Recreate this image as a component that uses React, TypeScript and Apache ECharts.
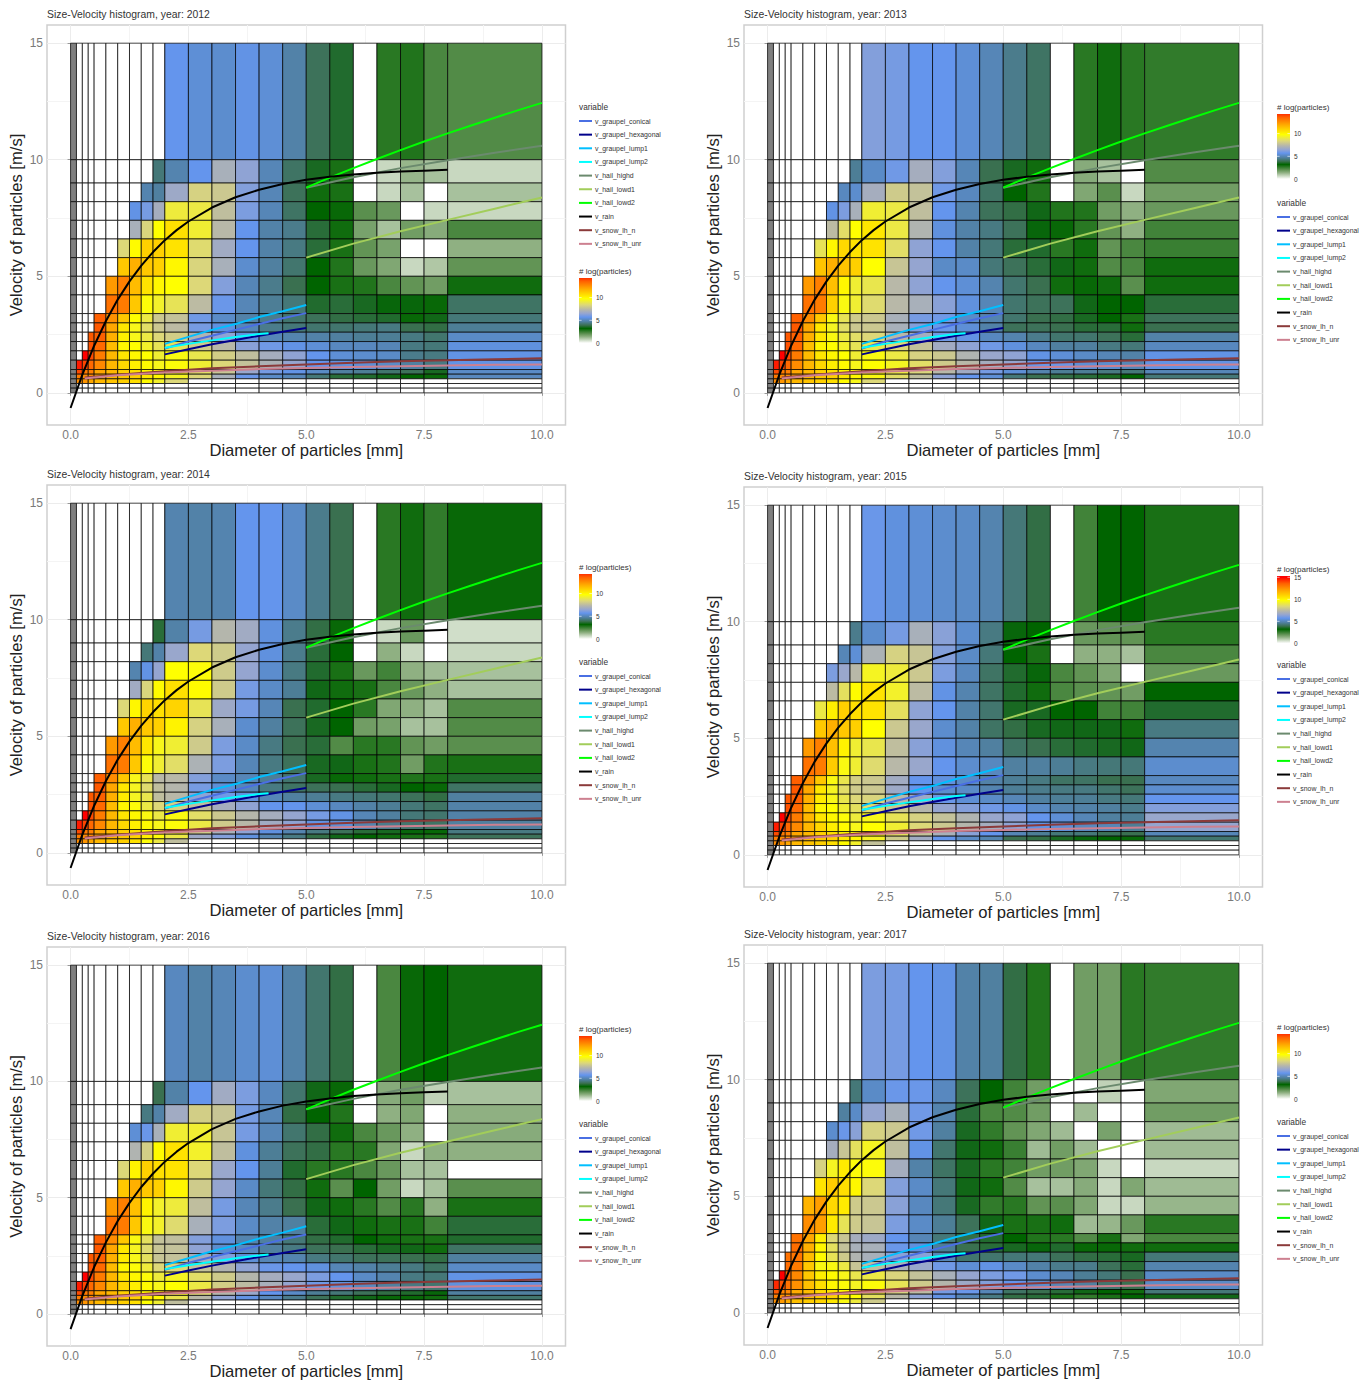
import React, { useEffect, useRef } from "react";
import * as echarts from "echarts";

const years = [2012, 2013, 2014, 2015, 2016, 2017];
const xEdges = [0, 0.125, 0.25, 0.375, 0.5, 0.75, 1, 1.25, 1.5, 1.75, 2, 2.5, 3, 3.5, 4, 4.5, 5, 5.5, 6, 6.5, 7, 7.5, 8, 10];
const yEdgesTopDown = [15, 10, 9, 8.2, 7.4, 6.6, 5.8, 5, 4.2, 3.4, 3, 2.6, 2.2, 1.8, 1.4, 1, 0.8, 0.6, 0.4, 0.2, 0];
const xTicks = [0, 2.5, 5, 7.5, 10];
const xTickLabels = ["0.0", "2.5", "5.0", "7.5", "10.0"];
const yTicks = [0, 5, 10, 15];
const xMinor = [1.25, 3.75, 6.25, 8.75];
const yMinor = [2.5, 7.5, 12.5];

const blankRow = [null, 0, 0, 0, 0, 0, 0, 0, 0, 0, 0, 0, 0, 0, 0, 0, 0, 0, 0, 0, 0, 0, 0];

const h2012 = [
  [null, 0, 0, 0, 0, 0, 0, 0, 0, 0, 5.7, 5.4, 5.3, 5.6, 5.4, 4.8, 4.0, 3.6, 0, 2.7, 2.8, 2.3, 2.2],
  [null, 0, 0, 0, 0, 0, 0, 0, 0, 4.3, 4.9, 5.7, 7.0, 6.4, 5.0, 4.1, 3.5, 2.9, 0, 0.7, 1.3, 1.1, 0.7],
  [null, 0, 0, 0, 0, 0, 0, 0, 4.9, 4.7, 6.7, 8.2, 7.9, 6.2, 5.0, 4.0, 3.0, 2.9, 0, 0.7, 1.1, 0, 1.1],
  [null, 0, 0, 0, 0, 0, 0, 5.6, 6.0, 6.9, 9.1, 9.0, 7.6, 6.1, 5.0, 4.1, 3.2, 3.1, 2.1, 1.9, 0, 0.7, 0.7],
  [null, 0, 0, 0, 0, 0, 0, 7.0, 8.3, 9.8, 10.6, 9.2, 7.4, 5.7, 4.8, 4.5, 3.7, 3.0, 1.7, 1.1, 1.8, 1.5, 2.3],
  [null, 0, 0, 0, 0, 0, 8.4, 9.9, 11, 11, 10.5, 8.5, 6.8, 5.7, 4.8, 4.4, 3.7, 2.9, 2.0, 1.7, 0, 0, 1.4],
  [null, 0, 0, 0, 0, 0, 11.2, 11.8, 11.2, 11, 10.0, 8.3, 7.0, 5.3, 4.7, 4.2, 3.2, 2.8, 1.9, 1.6, 0.7, 1.0, 2.0],
  [null, 0, 0, 0, 0, 12.3, 12.9, 11.5, 10.5, 10.0, 9.8, 8.4, 6.2, 5.0, 4.5, 3.9, 3.2, 2.9, 2.8, 2.3, 2.0, 1.8, 3.0],
  [null, 0, 0, 0, 0, 13.2, 13.0, 11.2, 9.7, 9.3, 8.8, 7.5, 5.8, 5.0, 4.6, 4.3, 3.6, 3.7, 3.5, 3.3, 3.3, 3.1, 4.1],
  [null, 0, 0, 0, 13.6, 12.5, 11.2, 9.8, 9.0, 7.9, 7.7, 5.9, 5.2, 4.8, 4.5, 4.2, 4.0, 3.8, 3.7, 3.6, 3.1, 3.4, 4.3],
  [null, 0, 0, 0, 13.7, 12, 10.4, 9.5, 8.6, 7.9, 7.5, 6.0, 5.5, 5.0, 4.5, 4.3, 4.2, 4.2, 4.3, 4.4, 3.9, 3.8, 4.6],
  [null, 0, 0, 13.7, 13.6, 11.8, 10.2, 9.5, 9.0, 8.4, 8.1, 7.2, 6.4, 5.5, 5.0, 4.9, 4.8, 4.7, 4.6, 4.6, 4.4, 4.2, 5.2],
  [null, 0, 0, 13.8, 13.4, 11.5, 10, 9.8, 9.3, 8.8, 8.8, 8.0, 7.4, 6.3, 5.9, 5.6, 5.4, 5.1, 5.1, 5.0, 4.4, 4.3, 5.5],
  [null, 0, 15, 13.9, 13, 11.6, 10.4, 10, 9.8, 9.2, 9.6, 8.9, 8.1, 7.6, 6.9, 6.4, 5.7, 5.4, 5.3, 5.2, 4.5, 4.4, 5.6],
  [null, 14.6, 14, 13.4, 12.7, 11.6, 10.8, 10.2, 9.9, 9.5, 9.7, 9.2, 8.4, 7.7, 7.1, 6.5, 5.7, 5.5, 5.4, 5.2, 4.7, 4.4, 5.6],
  [null, 13.9, 13, 12.9, 12, 11.6, 11, 10.6, 10, 9.7, 9.4, 8.6, 7.8, 6.6, 6.0, 5.6, 5.2, 4.7, 4.6, 4.2, 4.0, 3.5, 5.2],
  [null, 13, 12.6, 12.6, 12, 11.6, 11.2, 11, 10.4, 10, 9.4, 8.4, 7.0, 5.8, 5.2, 5.0, 4.3, 3.7, 3.6, 3.4, 3.2, 3.1, 5.1],
  [null, 12.6, 12.4, 12, 11.6, 11.3, 11, 10.6, 9.9, 9.3, 8.4, 0, 0, 0, 0, 0, 0, 0, 0, 0, 0, 0, 0],
  blankRow,
  blankRow,
];

const h2013 = [
  [null, 0, 0, 0, 0, 0, 0, 0, 0, 0, 6.2, 6.0, 5.7, 5.7, 5.4, 5.0, 4.5, 4.1, 0, 2.7, 3.0, 2.7, 2.6],
  [null, 0, 0, 0, 0, 0, 0, 0, 0, 4.6, 5.2, 5.9, 6.9, 6.2, 5.0, 3.9, 3.5, 3.0, 0, 1.5, 1.1, 0, 2.2],
  [null, 0, 0, 0, 0, 0, 0, 0, 5.1, 5.3, 6.9, 8.0, 7.7, 5.9, 5.1, 4.1, 3.2, 2.8, 0, 1.6, 2.1, 0.7, 1.8],
  [null, 0, 0, 0, 0, 0, 0, 5.6, 6.1, 7.0, 9.2, 9.0, 7.6, 5.7, 4.9, 4.0, 3.8, 3.4, 2.8, 2.8, 1.8, 1.4, 1.9],
  [null, 0, 0, 0, 0, 0, 0, 7.5, 8.6, 9.8, 10.4, 9.0, 7.2, 5.5, 4.8, 4.4, 4.0, 3.3, 3.1, 2.7, 2.0, 1.4, 2.4],
  [null, 0, 0, 0, 0, 0, 8.8, 10, 10.8, 10.5, 10.5, 8.6, 6.4, 5.7, 4.8, 4.3, 3.7, 3.6, 2.7, 3.0, 2.0, 2.3, 2.5],
  [null, 0, 0, 0, 0, 0, 11.3, 11.8, 11.3, 11.0, 9.8, 7.8, 6.5, 5.2, 5.2, 4.3, 4.0, 3.7, 3.4, 3.0, 2.2, 2.3, 3.0],
  [null, 0, 0, 0, 0, 12.3, 12.9, 11.4, 10.0, 9.2, 8.9, 7.4, 6.4, 5.7, 5.4, 4.9, 4.2, 3.9, 3.0, 3.1, 3.0, 2.1, 3.0],
  [null, 0, 0, 0, 0, 13.2, 13.0, 11.0, 9.6, 9.2, 8.5, 7.4, 7.0, 6.3, 5.5, 5.0, 4.2, 4.0, 4.0, 3.4, 3.2, 3.2, 3.7],
  [null, 0, 0, 0, 13.6, 12.6, 11.2, 9.6, 8.8, 8.0, 7.9, 7.0, 6.0, 5.9, 5.2, 4.9, 4.2, 3.9, 3.8, 3.5, 3.2, 2.9, 4.0],
  [null, 0, 0, 0, 13.7, 12.0, 10.4, 9.4, 8.6, 7.9, 7.9, 7.0, 6.2, 5.8, 5.4, 4.8, 4.0, 4.0, 3.9, 3.7, 3.7, 3.0, 3.9],
  [null, 0, 0, 13.7, 13.6, 11.8, 10.4, 9.6, 9.0, 8.6, 8.4, 7.4, 6.9, 5.9, 5.6, 5.1, 4.9, 4.5, 4.2, 4.2, 4.0, 3.7, 4.8],
  [null, 0, 0, 13.8, 13.4, 11.4, 10.0, 9.8, 9.3, 8.8, 8.9, 8.4, 7.7, 6.8, 6.4, 5.9, 5.5, 5.1, 4.7, 4.7, 4.4, 4.3, 5.1],
  [null, 0, 15, 13.9, 13, 11.5, 10.4, 10.0, 9.8, 9.2, 9.6, 9.0, 8.2, 7.9, 7.2, 6.6, 6.4, 5.6, 5.4, 5.2, 5.0, 4.8, 5.6],
  [null, 14.6, 14.0, 13.4, 12.6, 11.6, 10.8, 10.2, 9.9, 9.5, 9.8, 9.4, 8.6, 8.0, 7.4, 6.9, 6.5, 5.8, 5.8, 5.4, 5.3, 5.0, 5.6],
  [null, 13.9, 13.0, 12.9, 12.0, 11.6, 11.0, 10.6, 10.0, 9.7, 9.6, 9.0, 8.3, 7.4, 6.8, 6.0, 5.4, 4.9, 4.6, 4.6, 4.4, 4.3, 5.0],
  [null, 13.0, 12.6, 12.6, 12, 11.6, 11.2, 11.0, 10.4, 10.0, 9.6, 8.6, 7.6, 6.4, 5.7, 5.4, 4.3, 3.9, 3.8, 3.7, 3.5, 3.2, 4.3],
  [null, 12.6, 12.4, 12, 11.6, 11.3, 11.0, 10.6, 9.9, 9.5, 8.4, 0, 0, 0, 0, 0, 0, 0, 0, 0, 0, 0, 0],
  blankRow,
  blankRow,
];

const h2014 = [
  [null, 0, 0, 0, 0, 0, 0, 0, 0, 0, 4.9, 4.8, 4.9, 5.7, 5.7, 5.2, 4.5, 3.9, 0, 2.7, 3.0, 2.6, 3.1],
  [null, 0, 0, 0, 0, 0, 0, 0, 0, 3.7, 4.8, 6.0, 7.3, 6.8, 5.5, 4.5, 3.8, 3.1, 0, 0.7, 1.9, 0, 0.6],
  [null, 0, 0, 0, 0, 0, 0, 0, 4.3, 4.8, 6.6, 8.4, 8.0, 6.5, 5.5, 4.5, 3.7, 3.2, 0, 1.4, 0.7, 0, 0.7],
  [null, 0, 0, 0, 0, 0, 0, 4.9, 5.6, 6.5, 9.8, 9.7, 8.0, 6.5, 5.3, 4.4, 3.6, 2.9, 1.9, 2.4, 1.4, 1.2, 1.1],
  [null, 0, 0, 0, 0, 0, 0, 6.8, 8.3, 9.9, 10.6, 9.9, 8.0, 6.0, 5.2, 4.6, 3.4, 3.0, 2.9, 2.3, 1.9, 1.4, 1.1],
  [null, 0, 0, 0, 0, 0, 8.4, 10, 10.9, 10.6, 10.9, 8.8, 6.7, 6.0, 5.0, 3.9, 3.6, 3.2, 2.7, 1.6, 1.4, 1.1, 2.2],
  [null, 0, 0, 0, 0, 0, 11.2, 11.8, 11.2, 11, 10.1, 8.2, 7.0, 5.3, 4.7, 4.0, 3.5, 3.2, 1.8, 1.7, 1.1, 1.1, 2.2],
  [null, 0, 0, 0, 0, 12.3, 12.9, 11.5, 10.4, 9.5, 9.2, 8.0, 6.1, 5.2, 4.4, 3.9, 3.7, 2.2, 2.7, 2.7, 2.0, 1.8, 2.1],
  [null, 0, 0, 0, 0, 13.2, 13, 11.2, 9.7, 9.2, 8.6, 7.1, 6.1, 5, 4.4, 4.0, 3.5, 3.4, 2.9, 2.8, 1.8, 2.8, 2.9],
  [null, 0, 0, 0, 13.6, 12.6, 11.2, 9.5, 8.8, 7.4, 7.4, 6.2, 5.2, 5, 4.6, 4.2, 3.5, 3.1, 3.0, 2.9, 2.8, 2.9, 3.6],
  [null, 0, 0, 0, 13.7, 12, 10.4, 9.4, 8.5, 7.6, 7.3, 6.0, 5.4, 5.0, 4.4, 4.1, 4.0, 3.9, 3.7, 3.5, 3.2, 3.1, 4.1],
  [null, 0, 0, 13.7, 13.6, 11.8, 10.3, 9.4, 8.9, 7.6, 7.4, 6.4, 5.9, 5.5, 5.0, 4.7, 4.6, 4.4, 4.3, 4.2, 4.0, 3.8, 4.7],
  [null, 0, 0, 13.8, 13.4, 11.5, 10, 9.7, 9.0, 8.4, 8.2, 7.6, 6.9, 6.4, 5.7, 5.7, 5.4, 5.1, 4.8, 4.6, 4.3, 4.1, 4.8],
  [null, 0, 15, 13.9, 13, 11.6, 10.4, 10, 9.6, 9.0, 9.6, 8.6, 7.9, 7.3, 6.9, 6.5, 6.0, 5.6, 5.0, 4.7, 4.3, 4.2, 4.8],
  [null, 14.6, 14, 13.4, 12.7, 11.6, 10.8, 10.2, 9.9, 9.5, 9.7, 9.0, 8.0, 7.4, 6.8, 6.4, 5.6, 5.4, 4.9, 4.5, 4.2, 4.1, 4.7],
  [null, 13.9, 13, 12.9, 12, 11.6, 11, 10.6, 10, 9.6, 9.2, 8.0, 7.0, 6.4, 5.5, 4.9, 4.4, 4.0, 3.7, 3.5, 3.3, 3.1, 4.4],
  [null, 13, 12.6, 12.6, 12, 11.6, 11.2, 10.9, 10.2, 9.7, 9.0, 6.7, 6.2, 5.5, 4.9, 4.4, 3.8, 3.4, 3.2, 3.0, 2.9, 2.8, 4.0],
  [null, 12.6, 12.4, 12, 11.6, 11.3, 11, 10.5, 9.7, 9.0, 7.6, 0, 0, 0, 0, 0, 0, 0, 0, 0, 0, 0, 0],
  blankRow,
  blankRow,
];

const h2015 = [
  [null, 0, 0, 0, 0, 0, 0, 0, 0, 0, 5.8, 5.5, 5.4, 5.3, 5.2, 4.9, 4.3, 3.8, 0, 2.4, 3.2, 3.2, 2.9],
  [null, 0, 0, 0, 0, 0, 0, 0, 0, 4.5, 5.3, 6.0, 7.0, 6.3, 5.3, 4.4, 3.3, 3.2, 0, 1.9, 2.0, 2.0, 2.7],
  [null, 0, 0, 0, 0, 0, 0, 0, 5.0, 5.4, 7.1, 8.2, 7.8, 6.2, 5.2, 4.3, 3.2, 2.9, 0, 1.4, 1.4, 1.1, 2.3],
  [null, 0, 0, 0, 0, 0, 0, 6.1, 6.6, 7.4, 9.4, 9.1, 7.9, 6.1, 5.1, 4.1, 3.6, 3.3, 2.3, 2.0, 1.6, 0, 1.9],
  [null, 0, 0, 0, 0, 0, 0, 7.5, 8.7, 9.9, 10.5, 9.3, 7.5, 5.6, 4.9, 4.1, 3.6, 3.0, 2.3, 2.1, 2.0, 1.8, 3.2],
  [null, 0, 0, 0, 0, 0, 9.0, 10.2, 11, 10.6, 10.5, 8.7, 6.4, 5.7, 4.8, 4.2, 3.5, 3.5, 3.2, 3.2, 2.4, 2.4, 3.6],
  [null, 0, 0, 0, 0, 0, 11.2, 11.8, 11.2, 11, 9.8, 7.9, 6.6, 5.3, 4.8, 4.1, 3.8, 3.5, 3.4, 3.4, 3.4, 3.0, 4.4],
  [null, 0, 0, 0, 0, 12.3, 12.9, 11.4, 10.1, 9.2, 8.9, 7.6, 6.3, 5.5, 5, 4.7, 4.1, 3.9, 3.7, 3.6, 3.5, 3.4, 4.9],
  [null, 0, 0, 0, 0, 13.2, 13, 11.1, 9.6, 9.2, 8.5, 7.4, 6.6, 5.7, 5.3, 5.1, 4.7, 4.7, 4.6, 4.4, 4.3, 4.3, 5.3],
  [null, 0, 0, 0, 13.6, 12.6, 11.2, 9.6, 8.9, 8.1, 7.9, 6.8, 5.7, 5.5, 5.2, 4.8, 4.6, 4.4, 4.1, 4.1, 3.9, 3.9, 5.1],
  [null, 0, 0, 0, 13.7, 12, 10.4, 9.4, 8.6, 8.0, 7.9, 6.7, 5.7, 5.3, 5.2, 4.9, 4.6, 4.5, 4.4, 4.4, 4.2, 4.0, 5.3],
  [null, 0, 0, 13.7, 13.6, 11.8, 10.3, 9.5, 8.9, 8.4, 8.3, 7.4, 6.7, 5.8, 5.4, 5.2, 5.0, 4.7, 4.6, 4.6, 4.4, 4.3, 5.7],
  [null, 0, 0, 13.8, 13.4, 11.5, 10, 9.8, 9.2, 8.7, 8.6, 7.9, 7.3, 6.5, 6.2, 5.9, 5.6, 5.2, 4.9, 4.8, 4.7, 4.5, 6.2],
  [null, 0, 15, 13.9, 13, 11.6, 10.4, 10, 9.7, 9.1, 9.5, 8.8, 8.2, 7.7, 7.2, 6.6, 6.4, 5.7, 5.4, 5.0, 4.7, 4.6, 6.6],
  [null, 14.6, 14, 13.4, 12.7, 11.6, 10.8, 10.2, 9.9, 9.5, 9.8, 9.2, 8.4, 7.9, 7.3, 6.9, 6.4, 5.6, 5.4, 5.1, 5, 4.6, 6.5],
  [null, 13.9, 13, 12.9, 12, 11.6, 11, 10.6, 10, 9.7, 9.5, 8.7, 7.7, 7.0, 6.3, 5.7, 5.0, 4.6, 4.3, 4.3, 4.0, 3.9, 5.0],
  [null, 13, 12.6, 12.6, 12, 11.6, 11.2, 11, 10.4, 10, 9.4, 8.0, 6.8, 5.7, 5.2, 4.9, 3.9, 3.8, 3.5, 3.3, 3.2, 3.1, 4.2],
  [null, 12.6, 12.4, 12, 11.6, 11.3, 11, 10.6, 9.9, 9.3, 7.7, 0, 0, 0, 0, 0, 0, 0, 0, 0, 0, 0, 0],
  blankRow,
  blankRow,
];

const h2016 = [
  [null, 0, 0, 0, 0, 0, 0, 0, 0, 0, 5.1, 4.8, 5.0, 5.3, 5.4, 4.8, 4.2, 3.8, 0, 2.3, 3.1, 3.2, 3.0],
  [null, 0, 0, 0, 0, 0, 0, 0, 0, 3.9, 4.8, 5.7, 6.8, 6.1, 5.1, 4.2, 3.4, 3.1, 0, 1.5, 1.8, 0.8, 1.1],
  [null, 0, 0, 0, 0, 0, 0, 0, 4.4, 4.8, 6.8, 8.1, 7.8, 6.0, 5.0, 3.8, 3.2, 2.8, 0, 1.4, 1.6, 0, 1.4],
  [null, 0, 0, 0, 0, 0, 0, 5.4, 5.8, 7.0, 9.2, 9.2, 7.8, 6.0, 5.0, 4.2, 3.8, 3.0, 2.3, 1.9, 1.4, 0, 1.5],
  [null, 0, 0, 0, 0, 0, 0, 7.2, 8.1, 9.9, 10.5, 9.3, 7.6, 5.5, 4.6, 4.0, 3.8, 2.7, 2.7, 1.6, 0.7, 1.4, 1.4],
  [null, 0, 0, 0, 0, 0, 8.4, 10.1, 11, 10.6, 10.5, 8.4, 6.6, 5.7, 4.6, 3.6, 2.7, 2.7, 2.3, 1.9, 1.1, 1.1, 0],
  [null, 0, 0, 0, 0, 0, 11.2, 11.8, 11.2, 11, 10, 8.0, 6.5, 5.2, 4.3, 3.8, 3.0, 2.1, 3.2, 1.8, 0.7, 1.1, 2.1],
  [null, 0, 0, 0, 0, 12.3, 12.9, 11.4, 10.1, 9.3, 9.1, 7.6, 6, 5, 4.5, 3.9, 3.4, 3.0, 2.7, 2.2, 2.7, 1.4, 2.9],
  [null, 0, 0, 0, 0, 13.2, 13, 11.2, 9.6, 9.3, 8.5, 7.0, 6.1, 5.2, 4.8, 4.7, 3.7, 3.4, 3.0, 2.9, 2.9, 2.4, 3.7],
  [null, 0, 0, 0, 13.6, 12.6, 11.2, 9.6, 8.7, 7.7, 7.6, 6.2, 5.5, 4.9, 4.7, 4.3, 3.8, 3.6, 3.2, 3.0, 2.9, 2.9, 3.6],
  [null, 0, 0, 0, 13.7, 12, 10.4, 9.4, 8.5, 7.8, 7.7, 6.4, 5.3, 5.1, 4.7, 4.4, 4.0, 3.9, 3.7, 3.5, 3.4, 3.0, 4.1],
  [null, 0, 0, 13.7, 13.6, 11.8, 10.3, 9.5, 8.7, 7.8, 7.7, 6.9, 6.2, 5.4, 5.0, 4.9, 4.4, 4.2, 4.0, 4.0, 3.9, 3.8, 4.7],
  [null, 0, 0, 13.8, 13.4, 11.5, 10, 9.7, 9.1, 8.4, 8.4, 7.7, 7.2, 6.4, 5.8, 5.7, 5.5, 5.0, 4.8, 4.6, 4.4, 4.1, 5.2],
  [null, 0, 15, 13.9, 13, 11.6, 10.4, 10, 9.7, 9.1, 9.4, 8.6, 8.0, 7.3, 6.9, 6.6, 6.1, 5.7, 5.2, 4.9, 4.4, 4.3, 5.6],
  [null, 14.6, 14, 13.4, 12.7, 11.6, 10.8, 10.2, 9.9, 9.5, 9.8, 9.0, 8.1, 7.5, 7, 6.5, 5.9, 5.5, 5.1, 4.7, 4.4, 4.2, 5.5],
  [null, 13.9, 13, 12.9, 12, 11.6, 11, 10.6, 10, 9.7, 9.3, 8.4, 7.3, 6.6, 5.7, 5.2, 4.6, 4.3, 4.0, 3.8, 3.6, 3.3, 4.7],
  [null, 13, 12.6, 12.6, 12, 11.6, 11.2, 11, 10.3, 9.9, 8.9, 7.4, 6.4, 5.6, 5.1, 4.5, 4.0, 3.6, 3.4, 3.1, 3.1, 3.0, 4.2],
  [null, 12.6, 12.4, 12, 11.6, 11.3, 11, 10.6, 9.8, 9.2, 7.6, 0, 0, 0, 0, 0, 0, 0, 0, 0, 0, 0, 0],
  blankRow,
  blankRow,
];

const h2017 = [
  [null, 0, 0, 0, 0, 0, 0, 0, 0, 0, 6.1, 6.0, 5.7, 5.6, 4.8, 4.7, 3.8, 2.8, 0, 1.8, 1.8, 2.7, 2.6],
  [null, 0, 0, 0, 0, 0, 0, 0, 0, 4.3, 5.2, 5.8, 5.8, 5.1, 4.0, 3.2, 2.4, 1.8, 0, 0, 0.8, 0, 1.6],
  [null, 0, 0, 0, 0, 0, 0, 0, 4.7, 5.2, 6.5, 7.0, 5.9, 4.9, 3.7, 2.3, 2.2, 1.8, 0, 1.2, 0, 0, 1.8],
  [null, 0, 0, 0, 0, 0, 0, 5.3, 5.8, 6.3, 8.2, 7.9, 5.9, 4.7, 3.5, 2.6, 2.0, 1.6, 1.2, 0, 1.7, 0, 1.2],
  [null, 0, 0, 0, 0, 0, 0, 6.9, 7.8, 8.7, 9.4, 7.6, 5.6, 4.2, 3.4, 3.0, 2.5, 1.2, 1.8, 1.2, 0, 0, 1.2],
  [null, 0, 0, 0, 0, 0, 8.2, 9.4, 10.3, 9.7, 9.7, 6.9, 4.8, 4.1, 3.5, 2.7, 2.4, 1.8, 1.8, 1.6, 0.7, 0, 0.7],
  [null, 0, 0, 0, 0, 0, 10.5, 11.1, 10.6, 10, 8.4, 6.2, 5.2, 4.3, 3.4, 3.0, 2.2, 1.1, 1.1, 1.5, 0.7, 1.6, 1.2],
  [null, 0, 0, 0, 0, 11.7, 12.2, 10.8, 10.3, 8.0, 7.9, 6.3, 5.1, 4.3, 3.5, 2.6, 2.7, 2.0, 2.1, 1.6, 0.7, 0.7, 1.3],
  [null, 0, 0, 0, 0, 12.6, 12.2, 10.3, 8.8, 8.0, 7.8, 6.1, 5.2, 4.6, 4.0, 3.4, 2.9, 2.9, 3.0, 1.2, 1.3, 1.9, 2.7],
  [null, 0, 0, 0, 13.2, 12, 10.2, 8.4, 7.8, 6.9, 6.7, 5.7, 5.0, 4.3, 3.8, 3.6, 3.2, 2.8, 2.7, 2.2, 2.9, 1.6, 2.3],
  [null, 0, 0, 0, 13.3, 11.8, 10, 8.7, 7.7, 7, 7, 5.8, 5.5, 4.6, 3.9, 3.7, 3.5, 3.3, 3.6, 3.1, 3.1, 3.0, 3.0],
  [null, 0, 0, 13.2, 13.1, 11.5, 9.9, 8.8, 8, 7.2, 7.0, 6.3, 6.3, 5.0, 4.2, 4.2, 4.3, 4.3, 4.0, 3.8, 3.7, 3.5, 4.3],
  [null, 0, 0, 13.3, 13, 11.2, 9.6, 9.6, 9.0, 7.8, 7.6, 7.0, 6.6, 5.9, 5.4, 5.6, 5.2, 4.8, 4.5, 4.5, 4.0, 3.7, 4.9],
  [null, 0, 15, 13.4, 12.7, 11.2, 10.2, 9.9, 9.5, 8.9, 9, 8.3, 7.7, 7.0, 6.5, 6.1, 5.9, 5.3, 5.0, 4.6, 4.3, 3.9, 5.2],
  [null, 14.4, 13.8, 13.2, 12.5, 11.4, 10.6, 10, 9.7, 9.4, 9.7, 8.8, 8.0, 7.3, 6.7, 6.2, 5.7, 5.3, 5.0, 4.7, 4.2, 3.9, 5.2],
  [null, 13.7, 12.8, 12.7, 11.9, 11.5, 10.8, 10.5, 9.9, 9.6, 9.1, 8.2, 7.5, 6.0, 5.8, 5.0, 4.1, 3.9, 3.7, 3.4, 3.2, 3.0, 4.3],
  [null, 12.9, 12.5, 12.4, 11.9, 11.5, 11.1, 10.9, 10.2, 9.8, 8.7, 7.4, 6.4, 5.6, 5.0, 4.4, 3.8, 3.7, 2.9, 2.6, 2.9, 3.2, 3.4],
  [null, 12.5, 12.3, 11.9, 11.4, 11.1, 10.9, 10.4, 9.6, 9.1, 8.0, 0, 0, 0, 0, 0, 0, 0, 0, 0, 0, 0, 0],
  blankRow,
  blankRow,
];

const heatByYear = [h2012, h2013, h2014, h2015, h2016, h2017];

// fall-velocity curves
const dGraupel = [2, 2.5, 3, 3.5, 4, 4.5, 5];
const vConical = [1.9, 2.2, 2.45, 2.7, 2.95, 3.2, 3.42];
const vHexagonal = [1.65, 1.87, 2.08, 2.27, 2.45, 2.62, 2.78];
const vLump1 = [2.1, 2.4, 2.7, 2.95, 3.25, 3.5, 3.77];
const dLump2 = [2, 2.5, 3, 3.5, 4, 4.2];
const vLump2 = [1.93, 2.1, 2.25, 2.4, 2.52, 2.56];
const dHighd = [5, 6, 7, 8, 9, 10];
const vHighd = [8.8, 9.25, 9.64, 9.98, 10.3, 10.6];
const dLowd1 = [5, 6, 7, 8, 9, 10];
const vLowd1 = [5.8, 6.4, 6.93, 7.42, 7.9, 8.38];
const dLowd2 = [5, 5.5, 6, 6.5, 7, 7.5, 8, 8.5, 9, 9.5, 10];
const vLowd2 = [8.8, 9.23, 9.64, 10.03, 10.41, 10.78, 11.13, 11.47, 11.8, 12.13, 12.44];
const dRain = [0, 0.25, 0.5, 0.75, 1, 1.25, 1.5, 1.75, 2, 2.25, 2.5, 3, 3.5, 4, 4.5, 5, 5.5, 6, 6.5, 7, 7.5, 8];
const vRain = [-0.65, 0.78, 2.02, 3.08, 4.0, 4.78, 5.46, 6.04, 6.55, 6.98, 7.35, 7.95, 8.39, 8.71, 8.96, 9.14, 9.27, 9.37, 9.44, 9.49, 9.53, 9.57];
const dSnow = [0.3, 1, 2, 3, 4, 5, 6, 7, 8, 9, 10];
const vSnowN = [0.66, 0.78, 0.93, 1.05, 1.14, 1.22, 1.29, 1.35, 1.4, 1.44, 1.48];
const vSnowUnr = [0.62, 0.75, 0.87, 0.95, 1.02, 1.07, 1.11, 1.14, 1.17, 1.2, 1.22];

const curves: [string, string, number[], number[]][] = [
  ["v_graupel_conical", "#4a6fe3", dGraupel, vConical],
  ["v_graupel_hexagonal", "#00008b", dGraupel, vHexagonal],
  ["v_graupel_lump1", "#00bfff", dGraupel, vLump1],
  ["v_graupel_lump2", "#00ffff", dLump2, vLump2],
  ["v_hail_highd", "#6b8a6e", dHighd, vHighd],
  ["v_hail_lowd1", "#a2cd5a", dLowd1, vLowd1],
  ["v_hail_lowd2", "#00ff00", dLowd2, vLowd2],
  ["v_rain", "#000000", dRain, vRain],
  ["v_snow_lh_n", "#8b3a3a", dSnow, vSnowN],
  ["v_snow_lh_unr", "#cd8090", dSnow, vSnowUnr],
];

// colour scale of log(particles)
const scaleValues = [0, 0.7, 1.4, 2.1, 3.2, 3.9, 4.7, 5.7, 6.5, 7.4, 8.4, 9.8, 11.8, 12.3, 13.6, 15];
const scaleColors = ["#ffffff", "#c8d8c0", "#8fb082", "#5a8f4e", "#006400", "#3a7050", "#5080a0", "#6495ed", "#95a5d0", "#b8b8a8", "#ddd878", "#ffff00", "#ffb000", "#ff9a00", "#ff6000", "#ff0000"];

// layout of the six panels
const panelW = 518.5;
const panelH = 400;
const panelLeft = [47, 744, 47, 744, 47, 744];
const panelTop = [25, 25, 485, 487, 947, 945];
const varTitleY = [107, 203, 662, 665, 1124, 1122];
const barTitleY = [271, 107, 567, 569, 1029, 1027];
const legendLeft = [579, 1277, 579, 1277, 579, 1277];
const barMax = [14.3, 14.3, 14.3, 15.3, 14.3, 14.3];
const barUnitPx = [4.55, 4.55, 4.55, 4.4, 4.55, 4.55];
const barLabels = [0, 5, 10, 15];

function hex(c: string) {
  return [parseInt(c.slice(1, 3), 16), parseInt(c.slice(3, 5), 16), parseInt(c.slice(5, 7), 16)];
}
function colorOf(v: number) {
  if (!(v >= 0)) return "#7f7f7f";
  for (let i = 1; i < scaleValues.length; i++) {
    if (v <= scaleValues[i]) {
      const t = (v - scaleValues[i - 1]) / (scaleValues[i] - scaleValues[i - 1]);
      const a = hex(scaleColors[i - 1]);
      const b = hex(scaleColors[i]);
      return `rgb(${a.map((x, k) => Math.round(x + (b[k] - x) * t)).join(",")})`;
    }
  }
  return "#ff0000";
}

function buildOption() {
  const grid: any[] = [];
  const xAxis: any[] = [];
  const yAxis: any[] = [];
  const series: any[] = [];
  const title: any[] = [];
  const legend: any[] = [];
  const graphic: any[] = [];
  const FONT = "Liberation Sans";

  years.forEach((year, p) => {
    grid.push({
      show: true, left: panelLeft[p], top: panelTop[p], width: panelW, height: panelH,
      borderColor: "#cfcfcf", borderWidth: 1.5, backgroundColor: "#ffffff", containLabel: false,
    });
    xAxis.push({
      gridIndex: p, type: "value", min: -0.5, max: 10.5,
      name: "Diameter of particles [mm]", nameLocation: "middle", nameGap: 16,
      nameTextStyle: { fontFamily: FONT, fontSize: 16.6, color: "#222222" },
      axisLine: { show: false },
      axisTick: { show: true, length: 3, lineStyle: { color: "#999999" }, customValues: xTicks },
      axisLabel: { show: true, margin: 4, fontFamily: FONT, fontSize: 12, color: "#7a7a7a", customValues: xTicks, formatter: (v: number) => xTickLabels[xTicks.indexOf(v)] },
      splitLine: { show: true, lineStyle: { color: "#ececec", width: 1 } },
    });
    yAxis.push({
      gridIndex: p, type: "value", min: -1.38, max: 15.78,
      name: "Velocity of particles [m/s]", nameLocation: "middle", nameGap: 22,
      nameTextStyle: { fontFamily: FONT, fontSize: 16.6, color: "#222222" },
      axisLine: { show: false },
      axisTick: { show: true, length: 3, lineStyle: { color: "#999999" }, customValues: yTicks },
      axisLabel: { show: true, margin: 4, fontFamily: FONT, fontSize: 12, color: "#7a7a7a", customValues: yTicks, formatter: (v: number) => String(v) },
      splitLine: { show: true, lineStyle: { color: "#ececec", width: 1 } },
    });
    title.push({
      text: `Size-Velocity histogram, year: ${year}`,
      left: panelLeft[p], top: panelTop[p] - 16, padding: 0,
      textStyle: { fontFamily: FONT, fontSize: 10.4, fontWeight: "normal", color: "#333333" },
    });

    // faint minor grid lines, under the histogram
    series.push({
      type: "line", name: "minor", xAxisIndex: p, yAxisIndex: p, data: [], z: 1, silent: true,
      markLine: {
        z: 1, silent: true, symbol: "none", label: { show: false }, animation: false,
        lineStyle: { color: "#f4f4f4", width: 1, type: "solid" },
        data: [...xMinor.map((v) => ({ xAxis: v })), ...yMinor.map((v) => ({ yAxis: v }))],
      },
    });

    const cells: number[][] = [];
    heatByYear[p].forEach((row, r) => {
      row.forEach((v, c) => {
        cells.push([xEdges[c], xEdges[c + 1], yEdgesTopDown[r + 1], yEdgesTopDown[r], v === null ? -1 : (v as number)]);
      });
    });
    series.push({
      type: "custom", name: "histogram", xAxisIndex: p, yAxisIndex: p, z: 2, silent: true,
      dimensions: ["x0", "x1", "y0", "y1", "value"],
      encode: { x: [0, 1], y: [2, 3] },
      data: cells,
      renderItem: (_: any, api: any) => {
        const a = api.coord([api.value(0), api.value(3)]);
        const b = api.coord([api.value(1), api.value(2)]);
        return {
          type: "rect",
          shape: { x: a[0], y: a[1], width: b[0] - a[0], height: b[1] - a[1] },
          style: { fill: colorOf(api.value(4)), stroke: "rgba(0,0,0,0.72)", lineWidth: 1 },
        };
      },
    });

    curves.forEach(([name, color, xs, ys]) => {
      series.push({
        type: "line", name, xAxisIndex: p, yAxisIndex: p, z: 3, showSymbol: false, symbol: "none", silent: true,
        lineStyle: { color, width: 2 }, itemStyle: { color },
        data: xs.map((x, i) => [x, ys[i]]),
      });
    });

    legend.push({
      orient: "vertical", left: legendLeft[p], top: varTitleY[p] + 10.5, padding: 0,
      icon: "rect", itemWidth: 13, itemHeight: 2, itemGap: 6.65, selectedMode: false,
      textStyle: { fontFamily: FONT, fontSize: 6.9, lineHeight: 7, color: "#333333", padding: [0, 0, 0, -2] },
      data: curves.map((c) => c[0]),
    });

    graphic.push({
      type: "text", x: legendLeft[p], y: varTitleY[p], silent: true,
      style: { text: "variable", fontFamily: FONT, fontSize: 8.3, fill: "#333333", verticalAlign: "middle", align: "left" },
    });
    graphic.push({
      type: "text", x: legendLeft[p], y: barTitleY[p], silent: true,
      style: { text: "# log(particles)", fontFamily: FONT, fontSize: 8, fill: "#333333", verticalAlign: "middle", align: "left" },
    });

    const barH = barMax[p] * barUnitPx[p];
    const barTop = barTitleY[p] + 7;
    const barBottom = barTop + barH;
    const stops: any[] = [];
    scaleValues.forEach((v, i) => {
      if (v <= barMax[p]) stops.push({ offset: v / barMax[p], color: scaleColors[i] });
    });
    stops.push({ offset: 1, color: colorOf(barMax[p]) });
    graphic.push({
      type: "rect", silent: true,
      shape: { x: legendLeft[p], y: barTop, width: 13, height: barH },
      style: { fill: { type: "linear", x: 0, y: 1, x2: 0, y2: 0, colorStops: stops } },
    });
    barLabels.forEach((v) => {
      if (v > barMax[p]) return;
      const y = barBottom - v * barUnitPx[p];
      graphic.push({
        type: "text", x: legendLeft[p] + 17, y, silent: true,
        style: { text: String(v), fontFamily: FONT, fontSize: 6.5, fill: "#333333", verticalAlign: "middle", align: "left" },
      });
      graphic.push({ type: "line", silent: true, z: 5, shape: { x1: legendLeft[p], y1: y, x2: legendLeft[p] + 2.6, y2: y }, style: { stroke: "#ffffff", lineWidth: 0.6 } });
      graphic.push({ type: "line", silent: true, z: 5, shape: { x1: legendLeft[p] + 10.4, y1: y, x2: legendLeft[p] + 13, y2: y }, style: { stroke: "#ffffff", lineWidth: 0.6 } });
    });
  });

  return {
    animation: false,
    backgroundColor: "#ffffff",
    title, grid, xAxis, yAxis, series, legend,
    graphic: { elements: graphic },
  };
}

export default function App() {
  const ref = useRef<HTMLDivElement>(null);
  useEffect(() => {
    const chart = echarts.init(ref.current!, undefined, { renderer: "svg" });
    chart.setOption(buildOption() as any);
    return () => chart.dispose();
  }, []);
  return <div ref={ref} style={{ position: "absolute", left: 0, top: 0, width: 1371, height: 1381 }} />;
}
